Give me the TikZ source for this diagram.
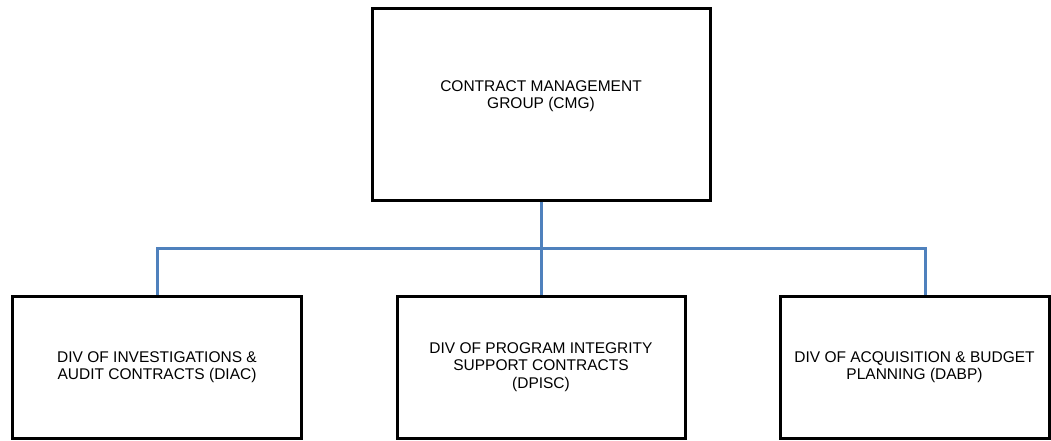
\documentclass[tikz,border=0pt]{standalone}
\usepackage{fontspec}
\setmainfont{Liberation Sans}
\usetikzlibrary{positioning,calc}
\definecolor{AzulEnlace}{RGB}{79,129,189}

\begin{document}
\begin{tikzpicture}[x=1pt,y=-1pt,
  caja/.style={draw,line width=3pt,minimum width=289,minimum height=142,
    align=center,inner sep=0pt,font=\fontsize{15.5}{17.5}\selectfont},
  enlace/.style={AzulEnlace,line width=3pt}]
  \useasboundingbox (0,0) rectangle (1051,440);
  % top box
  \node[caja,minimum width=338,minimum height=192,
    label={[font=\fontsize{15.5}{17.5}\selectfont,align=center,yshift=8pt]center:CONTRACT MANAGEMENT\\GROUP (CMG)}]
    (CMG) at (541,104) {};
  % divisions
  \node[caja] (DIAC) at (157,367) {DIV OF INVESTIGATIONS \&\\AUDIT CONTRACTS (DIAC)};
  \node[caja,minimum width=288] (DPISC) at (541,367) {DIV OF PROGRAM INTEGRITY\\SUPPORT CONTRACTS\\(DPISC)};
  \node[caja,minimum width=269] (DABP) at (914.5,367) {DIV OF ACQUISITION \& BUDGET\\PLANNING (DABP)};
  \coordinate (bus) at (541,248);
  \coordinate (R) at ([xshift=10.5pt]DABP.north);
  \draw[enlace] (CMG.south) -- (DPISC.north);
  \draw[enlace] (DIAC.north) |- (bus) -| (R);
\end{tikzpicture}
\end{document}
